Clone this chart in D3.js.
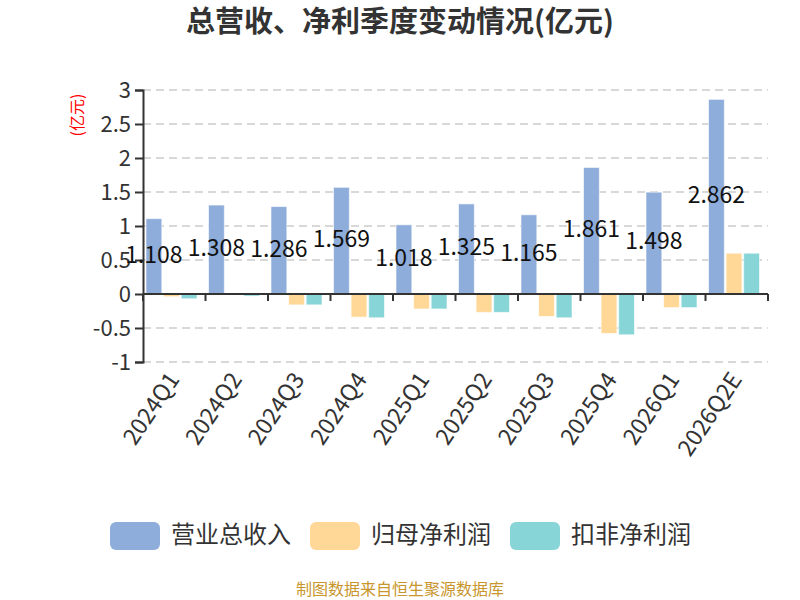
<!DOCTYPE html>
<html>
<head>
<meta charset="utf-8">
<script src="https://cdn.jsdelivr.net/npm/d3@7"></script>
<style>
  body { margin: 0; background: #fff; }
  text { font-family: "Noto Sans CJK SC", "Noto Sans", sans-serif; }
</style>
</head>
<body>
<svg id="chart"></svg>
<script>
const categories = ["2024Q1", "2024Q2", "2024Q3", "2024Q4", "2025Q1", "2025Q2", "2025Q3", "2025Q4", "2026Q1", "2026Q2E"];
const seriesNames = ["营业总收入", "归母净利润", "扣非净利润"];
const revenue = [1.108, 1.308, 1.286, 1.569, 1.018, 1.325, 1.165, 1.861, 1.498, 2.862];
const netProfit = [-0.04, -0.005, -0.16, -0.34, -0.22, -0.27, -0.33, -0.58, -0.20, 0.60];
const deductedProfit = [-0.07, -0.03, -0.16, -0.35, -0.22, -0.27, -0.35, -0.60, -0.20, 0.60];
const yTicks = [-1, -0.5, 0, 0.5, 1, 1.5, 2, 2.5, 3];
const colors = ["#8eaddb", "#ffd897", "#88d5d8"];

const w = 800, h = 600;
const plotLeft = 143, plotRight = 768, plotTop = 90, plotBottom = 362;

const svg = d3.select("#chart").attr("width", w).attr("height", h);

const seriesValues = [revenue, netProfit, deductedProfit];

// scales
const x0 = d3.scaleBand().domain(categories).range([plotLeft, plotRight]);
const x1 = d3.scaleBand().domain(d3.range(seriesNames.length))
    .range([3, 54]).paddingInner(0.1);
const y = d3.scaleLinear().domain([-1, 3]).range([plotBottom, plotTop]);

// title
svg.append("text")
    .attr("x", w / 2)
    .attr("y", 24)
    .attr("text-anchor", "middle")
    .attr("dominant-baseline", "middle")
    .attr("font-size", "29px")
    .attr("font-weight", "bold")
    .attr("fill", "#333")
    .text("总营收、净利季度变动情况(亿元)");

// grid lines
svg.append("g")
    .selectAll("line")
    .data(yTicks)
    .enter()
    .append("line")
    .attr("x1", plotLeft)
    .attr("x2", plotRight)
    .attr("y1", d => y(d))
    .attr("y2", d => y(d))
    .attr("stroke", "#ccc")
    .attr("stroke-width", 1.5)
    .attr("stroke-dasharray", "8,5");

// y axis
const yAxis = svg.append("g")
    .attr("transform", "translate(" + plotLeft + ",0)")
    .call(d3.axisLeft(y).tickValues(yTicks).tickSize(8).tickPadding(4)
        .tickFormat(d => String(d)));
yAxis.select(".domain").attr("stroke", "#333").attr("stroke-width", 2);
yAxis.selectAll(".tick line").attr("stroke", "#333").attr("stroke-width", 2);
yAxis.selectAll(".tick text")
    .attr("font-size", "22px")
    .attr("fill", "#333")
    .attr("font-family", "\"Noto Sans CJK SC\", sans-serif");

// y axis unit
svg.append("text")
    .attr("transform", "translate(79,115) rotate(-90)")
    .attr("text-anchor", "middle")
    .attr("dominant-baseline", "middle")
    .attr("font-size", "16px")
    .attr("fill", "red")
    .text("(亿元)");

// bars
const groups = svg.append("g")
    .selectAll("g")
    .data(categories)
    .enter()
    .append("g")
    .attr("transform", d => "translate(" + x0(d) + ",0)");

groups.selectAll("rect")
    .data((d, i) => seriesValues.map((s, k) => ({ k: k, v: s[i] })))
    .enter()
    .append("rect")
    .attr("x", d => x1(d.k))
    .attr("width", x1.bandwidth())
    .attr("y", d => y(Math.max(0, d.v)))
    .attr("height", d => Math.abs(y(d.v) - y(0)))
    .attr("fill", d => colors[d.k])
    .attr("stroke", "#fff")
    .attr("stroke-opacity", 0.6)
    .attr("stroke-width", 1);

// x axis at zero
const xAxis = svg.append("g")
    .attr("transform", "translate(0," + y(0) + ")");
xAxis.append("line")
    .attr("x1", plotLeft).attr("x2", plotRight)
    .attr("stroke", "#333").attr("stroke-width", 2);
xAxis.selectAll("line.tk")
    .data(categories.concat(["end"]))
    .enter()
    .append("line")
    .attr("class", "tk")
    .attr("x1", (d, i) => i < categories.length ? x0(d) : plotRight)
    .attr("x2", (d, i) => i < categories.length ? x0(d) : plotRight)
    .attr("y1", 0).attr("y2", 7)
    .attr("stroke", "#333").attr("stroke-width", 2);

// x labels
svg.append("g")
    .selectAll("text")
    .data(categories)
    .enter()
    .append("text")
    .attr("transform", d => "translate(" + (x0(d) + x0.bandwidth() / 2 + 1) + "," + (plotBottom + 14) + ") rotate(-56)")
    .attr("text-anchor", "end")
    .attr("dominant-baseline", "middle")
    .attr("font-size", "23px")
    .attr("fill", "#333")
    .text(d => d);

// value labels
svg.append("g")
    .selectAll("text")
    .data(categories)
    .enter()
    .append("text")
    .attr("x", (d, i) => x0(d) + x1(0) + x1.bandwidth() / 2)
    .attr("y", (d, i) => y(revenue[i] / 2))
    .attr("text-anchor", "middle")
    .attr("dominant-baseline", "middle")
    .attr("font-size", "23px")
    .attr("fill", "#111")
    .text((d, i) => revenue[i].toFixed(3));

// legend
const legendX = [110, 310, 510];
const legend = svg.append("g")
    .selectAll("g")
    .data(seriesNames)
    .enter()
    .append("g")
    .attr("transform", (d, i) => "translate(" + legendX[i] + ",522)");
legend.append("rect")
    .attr("width", 50).attr("height", 28)
    .attr("rx", 6).attr("ry", 6)
    .attr("fill", (d, i) => colors[i]);
legend.append("text")
    .attr("x", 61).attr("y", 14)
    .attr("dominant-baseline", "middle")
    .attr("font-size", "24px")
    .attr("fill", "#333")
    .text(d => d);

// source
svg.append("text")
    .attr("x", w / 2)
    .attr("y", 591)
    .attr("text-anchor", "middle")
    .attr("dominant-baseline", "middle")
    .attr("font-size", "16px")
    .attr("fill", "#c8962d")
    .text("制图数据来自恒生聚源数据库");
</script>
</body>
</html>
